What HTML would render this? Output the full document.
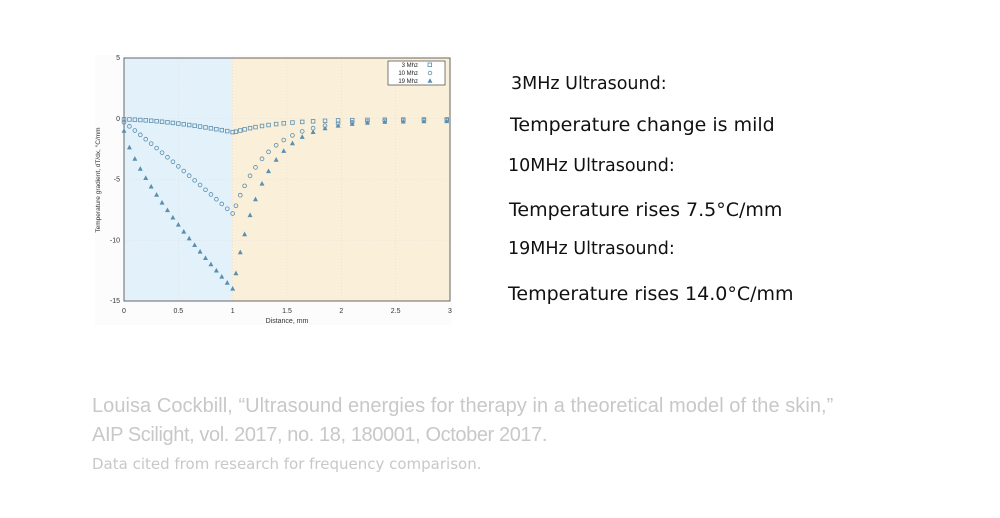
<!DOCTYPE html>
<html><head><meta charset="utf-8"><style>
body{margin:0;width:1000px;height:518px;background:#fff;position:relative;overflow:hidden;font-family:"DejaVu Sans","Liberation Sans",sans-serif}
.t{position:absolute;color:#111;white-space:nowrap}
.c{position:absolute;color:#c8c8c8;font-family:"Liberation Sans",sans-serif;white-space:nowrap;letter-spacing:-0.3px}
</style></head><body>
<svg width="1000" height="518" style="position:absolute;left:0;top:0" id="s">
<rect x="95" y="55" width="357" height="270" fill="#fcfcfc"/>
<rect x="124" y="58" width="108" height="243" fill="#e3f1fa"/>
<rect x="232" y="58" width="218" height="243" fill="#faefd8"/>
<g stroke="#ddd" stroke-width="0.6" stroke-dasharray="1,2" id="grid"></g>
<rect x="124" y="58" width="326" height="243" fill="none" stroke="#444" stroke-width="0.8"/>
<g font-family="Liberation Sans,sans-serif" font-size="7" fill="#333" id="ax"></g>
<text x="287" y="323" font-size="7" font-family="Liberation Sans,sans-serif" text-anchor="middle" fill="#333">Distance, mm</text>
<text transform="translate(100,180) rotate(-90)" font-size="6.5" font-family="Liberation Sans,sans-serif" text-anchor="middle" fill="#333">Temperature gradient, dT/dx, °C/mm</text>
<rect x="388" y="61" width="57" height="24" fill="#fff" stroke="#444" stroke-width="0.7"/>
<g font-family="Liberation Sans,sans-serif" font-size="6" fill="#222" text-anchor="end">
<text x="418" y="67">3 Mhz</text><text x="418" y="75">10 Mhz</text><text x="418" y="83">19 Mhz</text></g>
<g id="pts" fill="none" stroke="#5a8fb0" stroke-width="0.8"></g>
</svg>
<div class="t" style="left:511px;top:74px;font-size:17.5px">3MHz Ultrasound:</div>
<div class="t" style="left:510px;top:114px;font-size:19px">Temperature change is mild</div>
<div class="t" style="left:508px;top:156px;font-size:17.5px">10MHz Ultrasound:</div>
<div class="t" style="left:509px;top:199px;font-size:19px">Temperature rises 7.5°C/mm</div>
<div class="t" style="left:508px;top:239px;font-size:17.5px">19MHz Ultrasound:</div>
<div class="t" style="left:508px;top:283px;font-size:19px">Temperature rises 14.0°C/mm</div>
<div class="c" style="left:92px;top:395px;font-size:20px;letter-spacing:0.05px">Louisa Cockbill, “Ultrasound energies for therapy in a theoretical model of the skin,”</div>
<div class="c" style="left:92px;top:424px;font-size:20px;letter-spacing:-0.4px">AIP Scilight, vol. 2017, no. 18, 180001, October 2017.</div>
<div class="c" style="left:92px;top:455px;font-size:15px;font-family:'DejaVu Sans',sans-serif;letter-spacing:0">Data cited from research for frequency comparison.</div>
<script>
const NS="http://www.w3.org/2000/svg";
const X=v=>124+v*108.67, Y=v=>118.75-v*12.15;
function el(p,t,a){const e=document.createElementNS(NS,t);for(const k in a)e.setAttribute(k,a[k]);if(t=='text'){e.textContent=a.txt}document.getElementById(p).appendChild(e);return e}
[0.5,1,1.5,2,2.5].forEach(v=>el('grid','line',{x1:X(v),x2:X(v),y1:58,y2:301}));
[0,-5,-10].forEach(v=>el('grid','line',{x1:124,x2:450,y1:Y(v),y2:Y(v)}));
[0,0.5,1,1.5,2,2.5,3].forEach(v=>el('ax','text',{x:X(v),y:313,'text-anchor':'middle',txt:String(v)}));
[5,0,-5,-10,-15].forEach(v=>el('ax','text',{x:120,y:Y(v)+2,'text-anchor':'end',txt:String(v)}));
function sq(x,y){el('pts','rect',{x:X(x)-1.8,y:Y(y)-1.8,width:3.6,height:3.6})}
function ci(x,y){el('pts','circle',{cx:X(x),cy:Y(y),r:1.9})}
function tr(x,y){const a=X(x),b=Y(y);el('pts','polygon',{points:`${a},${b-2} ${a-1.8},${b+1.4} ${a+1.8},${b+1.4}`,fill:'#5a8fb0'})}
el('pts','rect',{x:428,y:63,width:3.6,height:3.6});
el('pts','circle',{cx:430,cy:73,r:1.8});
el('pts','polygon',{points:'430,79 428.2,82.4 431.8,82.4',fill:'#5a8fb0'});
for(let i=0;i<=20;i++){const x=i*0.05;
 sq(x,-0.05-1.05*Math.pow(x,1.6));
 ci(x,-0.3-7.5*Math.pow(x,1.05));
 tr(x,-1-13*Math.pow(x,0.75));
}
const R=[1.03,1.07,1.11,1.16,1.21,1.27,1.33,1.4,1.47,1.55,1.64,1.74,1.85,1.97,2.1,2.24,2.4,2.57,2.76,2.97];
R.forEach(x=>{const d=x-1;
 sq(x,-1.1*Math.exp(-d*2.6)-0.05);
 ci(x,-7.8*Math.exp(-d*3.3)-0.1);
 tr(x,-14*Math.exp(-d*3.7)-0.2);
});
</script>
</body></html>
